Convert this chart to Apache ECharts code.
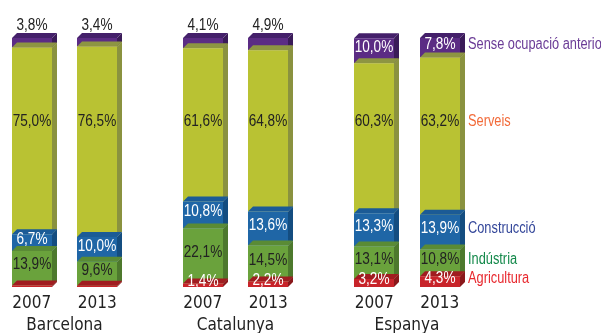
<!DOCTYPE html>
<html>
<head>
<meta charset="utf-8">
<script src="https://cdn.jsdelivr.net/npm/echarts@6/dist/echarts.min.js"></script>
<style>
  html, body { margin: 0; padding: 0; background: #ffffff; }
  #chart { width: 601px; height: 333px; }
</style>
</head>
<body>
<div id="chart"></div>
<script>
// Employed population by sector, 2007 vs 2013 (percent of total)
const groups = ['Barcelona', 'Catalunya', 'Espanya'];
const years = ['2007', '2013'];
const sectors = ['Agricultura', 'Indústria', 'Construcció', 'Serveis', 'Sense ocupació anterior'];

// one value per bar: Barcelona 2007, 2013, Catalunya 2007, 2013, Espanya 2007, 2013
const agricultura = [0.6, 0.5, 1.4, 2.2, 3.2, 4.3];
const agriculturaLabelled = [0, 0, 1, 1, 1, 1];
const industria = [13.9, 9.6, 22.1, 14.5, 13.1, 10.8];
const construccio = [6.7, 10.0, 10.8, 13.6, 13.3, 13.9];
const serveis = [75.0, 76.5, 61.6, 64.8, 60.3, 63.2];
const senseOcupacio = [3.8, 3.4, 4.1, 4.9, 10.0, 7.8];

const sectorValues = [agricultura, industria, construccio, serveis, senseOcupacio];
const sectorLabelled = [agriculturaLabelled, null, null, null, null];

const TEXT_FONT = "'Liberation Sans', Arial, sans-serif";
const AXIS_FONT = "'DejaVu Sans Condensed', 'DejaVu Sans', sans-serif";
const NARROW = 0.8;          // horizontal squeeze for a condensed look
const DEPTH = 5;
const SERVEIS_LABEL_LEVEL = 66.5;

// front / top / side shades and caption colour for each sector
const styles = [
  { front: '#c8242a', top: '#a01c20', side: '#8a181b', label: '#ffffff', caption: '#e8282e' },
  { front: '#6aa23c', top: '#5a8b35', side: '#4d792d', label: '#222222', caption: '#13894a' },
  { front: '#1f66a6', top: '#1b5b96', side: '#144d80', label: '#ffffff', caption: '#34479a' },
  { front: '#b9c233', top: '#8d9542', side: '#8a923f', label: '#222222', caption: '#f26b3a' },
  { front: '#5b2c84', top: '#44206a', side: '#3a1b58', label: '#ffffff', caption: '#6a3b96' }
];

const fmt = v => v.toFixed(1).replace('.', ',') + '%';

function narrowText(text, x, y, align, vAlign, fill, size) {
  return {
    type: 'text', x: x, y: y, scaleX: NARROW,
    style: { text: text, x: 0, y: 0, align: align, verticalAlign: vAlign,
             fill: fill, font: size + 'px ' + TEXT_FONT }
  };
}

function makeRender(g, s) {
  const st = styles[s];
  return function (params, api) {
    const cat = api.value(0);
    const start = api.value(1);
    const end = api.value(2);
    const val = api.value(3);
    const shown = api.value(4);
    const band = api.size([1, 0])[0];
    const bw = Math.round(band * 0.61);
    const base = api.coord([cat, start]);
    const tip = api.coord([cat, end]);
    const left = Math.round(base[0] - bw / 2);
    const right = left + bw;
    const yb = base[1];
    const yt = tip[1];
    const d = DEPTH;
    const children = [
      { type: 'polygon', shape: { points: [[right, yt], [right + d, yt - d], [right + d, yb - d], [right, yb]] },
        style: { fill: st.side } },
      { type: 'polygon', shape: { points: [[left, yt], [left + d, yt - d], [right + d, yt - d], [right, yt]] },
        style: { fill: st.top } },
      { type: 'rect', shape: { x: left, y: yt, width: bw, height: yb - yt },
        style: { fill: st.front } }
    ];
    let labelY = (yt - d + yb) / 2 - 1;
    if (s === 3) labelY = api.coord([cat, SERVEIS_LABEL_LEVEL])[1];
    if (shown) {
      const above = (s === 4 && val < 6);
      children.push(narrowText(
        fmt(val), (left + right) / 2,
        above ? yt - d + 1 : labelY,
        'center', above ? 'bottom' : 'middle',
        above ? '#222222' : st.label, 17));
    }
    // sector captions beside the last bar
    if (g === groups.length - 1 && cat === years.length - 1) {
      children.push(narrowText(sectors[s], right + 8, labelY, 'left', 'middle', st.caption, 16));
    }
    return { type: 'group', children: children };
  };
}

const gridLefts = [-1, 170, 341.5];
const grids = gridLefts.map(l => ({
  left: l, width: 131, top: 38, bottom: 46, containLabel: false, outerBoundsMode: 'none'
}));
const xAxes = groups.map((name, g) => ({
  type: 'category', gridIndex: g, data: years,
  axisLine: { show: false }, axisTick: { show: false },
  axisLabel: { margin: 8, color: '#222', fontSize: 17, fontFamily: AXIS_FONT },
  name: name, nameLocation: 'middle', nameGap: 28,
  nameTextStyle: { color: '#222', fontSize: 17, fontFamily: AXIS_FONT }
}));
const yAxes = groups.map((_, g) => ({
  type: 'value', gridIndex: g, min: 0, max: 100, show: false
}));

const series = [];
groups.forEach((_, g) => {
  // upper sectors first so each lower box's top face stays visible
  for (let s = sectors.length - 1; s >= 0; s--) {
    const data = years.map((_, i) => {
      const idx = g * years.length + i;
      let start = 0;
      for (let k = 0; k < s; k++) start += sectorValues[k][idx];
      const v = sectorValues[s][idx];
      const lab = sectorLabelled[s] ? sectorLabelled[s][idx] : 1;
      return [i, start, start + v, v, lab];
    });
    series.push({
      type: 'custom', name: sectors[s], xAxisIndex: g, yAxisIndex: g,
      renderItem: makeRender(g, s), data: data, clip: false, silent: true
    });
  }
});

const chart = echarts.init(document.getElementById('chart'), null, { renderer: 'canvas' });
chart.setOption({
  animation: false,
  backgroundColor: '#ffffff',
  grid: grids,
  xAxis: xAxes,
  yAxis: yAxes,
  series: series
});
</script>
</body>
</html>
